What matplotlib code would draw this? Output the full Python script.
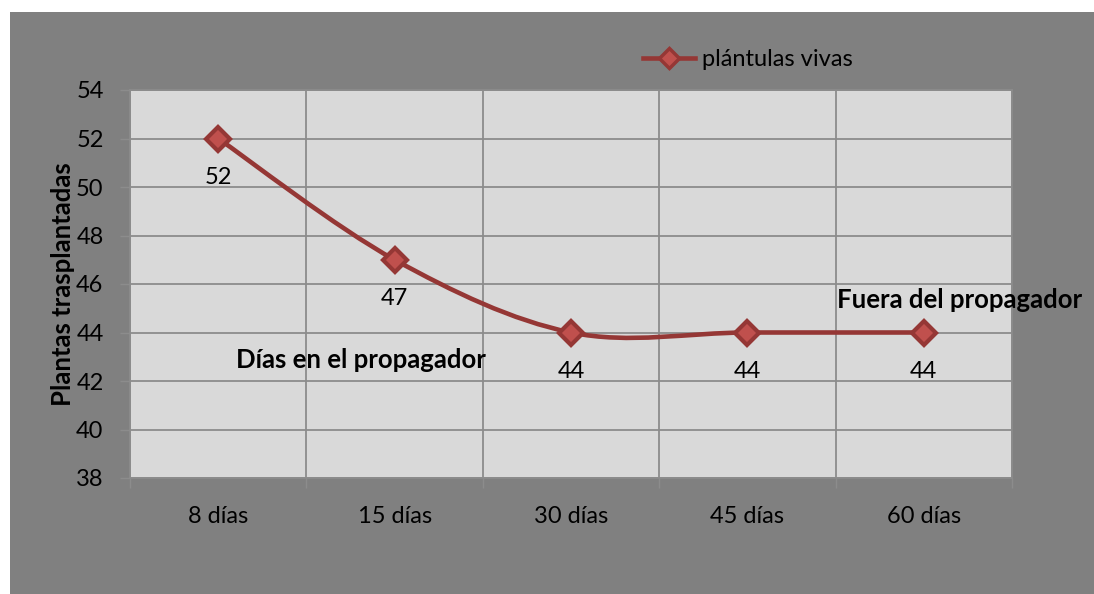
import matplotlib
matplotlib.use("Agg")
import matplotlib.pyplot as plt
from matplotlib.path import Path
from matplotlib.patches import PathPatch, Rectangle
from matplotlib.lines import Line2D

# data
categorias = ["8 días", "15 días", "30 días", "45 días", "60 días"]
plantulas_vivas = [52, 47, 44, 44, 44]
y_ticks = [38, 40, 42, 44, 46, 48, 50, 52, 54]

LINE = "#953735"
FACE = "#c0504d"
GRID = "#8c8c8c"

plt.rcParams["font.family"] = ["Lato", "DejaVu Sans"]

W, H = 1094, 594
fig = plt.figure(figsize=(W / 100, H / 100), dpi=100)
fig.patch.set_facecolor("white")
fig.patches.append(Rectangle((10 / W, 0), 1 - 10 / W, 1 - 12 / H,
                             transform=fig.transFigure, facecolor="#808080",
                             edgecolor="none", zorder=-10))

ax = fig.add_axes([130 / W, 1 - 478 / H, (1012 - 130) / W, (478 - 90) / H])
ax.set_facecolor("#d9d9d9")

x = list(range(len(categorias)))
y = plantulas_vivas

# smoothed line (Excel style bezier)
pts = list(zip(x, y))
verts = [pts[0]]
codes = [Path.MOVETO]
n = len(pts)
for i in range(n - 1):
    p0 = pts[i - 1] if i > 0 else pts[i]
    p1 = pts[i]
    p2 = pts[i + 1]
    p3 = pts[i + 2] if i + 2 < n else pts[i + 1]
    c1 = (p1[0] + (p2[0] - p0[0]) / 6, p1[1] + (p2[1] - p0[1]) / 6)
    c2 = (p2[0] - (p3[0] - p1[0]) / 6, p2[1] - (p3[1] - p1[1]) / 6)
    verts += [c1, c2, p2]
    codes += [Path.CURVE4] * 3
ax.add_patch(PathPatch(Path(verts, codes), facecolor="none", edgecolor=LINE,
                       linewidth=3.3, zorder=3, capstyle="round"))
ax.plot(x, y, linestyle="none", marker="D", markersize=12,
        markerfacecolor=FACE, markeredgecolor=LINE, markeredgewidth=3, zorder=4)

for xi, yi in zip(x, y):
    ax.annotate(str(yi), (xi, yi), xytext=(0, -28), textcoords="offset points",
                ha="center", va="center", fontsize=17, color="black")

ax.text(0.1, 42.85, "Días en el propagador", fontsize=18.5, fontweight="bold",
        ha="left", va="center")
ax.text(3.51, 45.35, "Fuera del propagador", fontsize=18.5, fontweight="bold",
        ha="left", va="center", clip_on=False)

ax.set_xlim(-0.5, len(categorias) - 0.5)
ax.set_ylim(38, 54)
ax.set_yticks(y_ticks)
ax.set_yticklabels([str(t) for t in y_ticks], fontsize=17)
ax.set_xticks(x)
ax.set_xticklabels(categorias, fontsize=17)
ax.set_xticks([i - 0.5 for i in range(len(categorias) + 1)], minor=True)
ax.tick_params(axis="x", which="major", length=0, pad=20)
ax.tick_params(axis="x", which="minor", length=7, color=GRID, width=1)
ax.tick_params(axis="y", length=7, color=GRID, width=1, pad=12)

ax.grid(False)
for yt in y_ticks:
    ax.axhline(yt, color=GRID, linewidth=1.3, zorder=1)
for xb in [i - 0.5 for i in range(len(categorias) + 1)]:
    ax.axvline(xb, color=GRID, linewidth=1.3, zorder=1)
for s in ax.spines.values():
    s.set_color(GRID)
    s.set_linewidth(1.3)

ax.set_ylabel("Plantas trasplantadas", fontsize=18.5, fontweight="bold", labelpad=1)

handle = Line2D([], [], color=LINE, linewidth=3.3, marker="D", markersize=10,
                markerfacecolor=FACE, markeredgecolor=LINE, markeredgewidth=2.5)
fig.legend([handle], ["plántulas vivas"], loc="center left",
           bbox_to_anchor=(622 / W, 1 - 60 / H), frameon=False, fontsize=17,
           handlelength=2.2, handletextpad=0.3)

fig.savefig("out.png", dpi=100)
